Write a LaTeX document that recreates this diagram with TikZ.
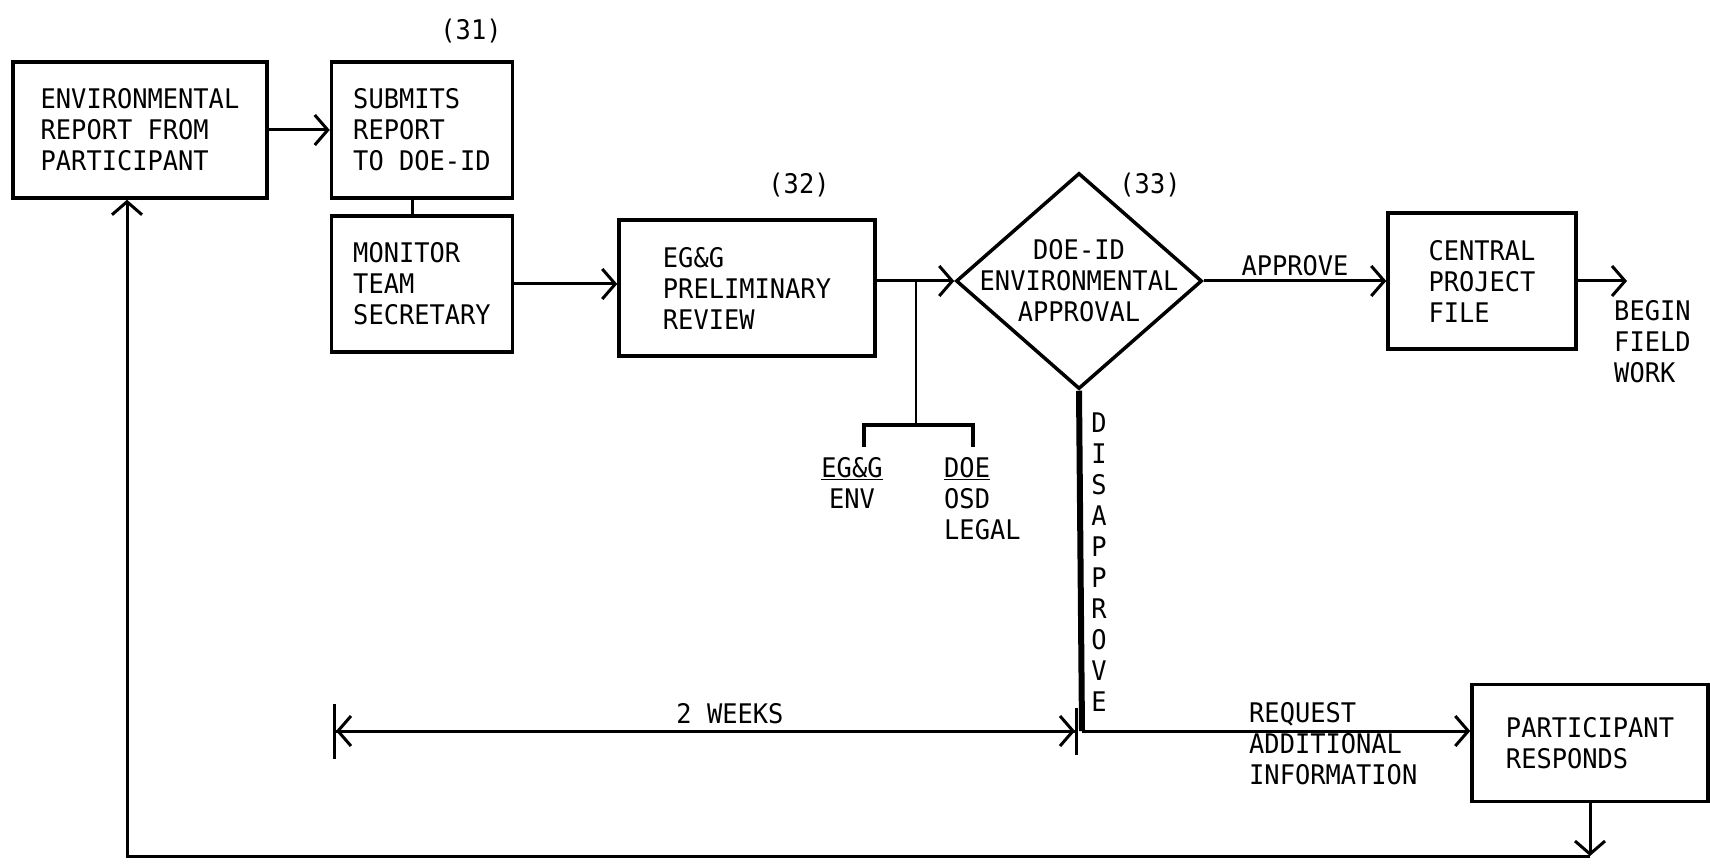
\documentclass[tikz,border=0pt]{standalone}
\usepackage{fontspec}
\newfontfamily\plotfont[FakeStretch=0.94]{DejaVu Sans Mono}
\usetikzlibrary{arrows.meta,shapes.geometric}

\begin{document}
\begin{tikzpicture}[x=1pt, y=-1pt,
        font=\plotfont\fontsize{27}{31}\selectfont,
        >={Straight Barb[length=13pt,width=30pt]}]
        \useasboundingbox (0,0) rectangle (1710,866);

        \begin{scope}[
            pnode/.style={draw, line width=3.5pt, align=left, inner sep=0pt, minimum height=136pt},
            dnode/.style={draw, diamond, line width=3.5pt, inner sep=0pt, minimum width=246pt, minimum height=216pt},
            lnode/.style={align=left, inner sep=0pt}]
            \node[pnode, minimum width=254pt] (env) at (140,130) {ENVIRONMENTAL\\REPORT FROM\\PARTICIPANT};
            \node[pnode, minimum width=181pt] (sub) at (422,130) {SUBMITS\\REPORT\\TO DOE-ID};
            \node[pnode, minimum width=181pt] (mon) at (422,284) {MONITOR\\TEAM\\SECRETARY};
            \node[pnode, minimum width=256pt] (rev) at (747,288) {EG\&G\\PRELIMINARY\\REVIEW};
            \node[dnode] (appr) at (1079,281) {};
            \node[lnode, align=center] (apprtext) at (appr) {DOE-ID\\ENVIRONMENTAL\\APPROVAL};
            \node[pnode, minimum width=188pt] (cpf) at (1482,281) {CENTRAL\\PROJECT\\FILE};
            \node[pnode, minimum width=236pt, minimum height=117pt] (resp) at (1590,743) {PARTICIPANT\\RESPONDS};

            \node[lnode] (n31) at (471,31) {(31)};
            \node[lnode] (n32) at (799,185) {(32)};
            \node[lnode] (n33) at (1150,185) {(33)};
            \node[lnode, anchor=west] (go) at (1614,342) {BEGIN\\FIELD\\WORK};
            \node[lnode, anchor=west] (req) at (1249,744) {REQUEST\\ADDITIONAL\\INFORMATION};
            \node[lnode, align=center] (dis) at (1099,562) {D\\I\\S\\A\\P\\P\\R\\O\\V\\E};
            \node[lnode, align=center, anchor=north] (egenv) at (852,457) {\underline{EG\&G}\\ENV};
            \node[lnode, anchor=north west] (doe) at (944,457) {\underline{DOE}\\OSD\\LEGAL};
        \end{scope}

        \coordinate (gotip) at (1627,281);
        \coordinate (tap) at (916,281);
        \coordinate (fork) at (916,425);
        \coordinate (envtap) at (864,447);
        \coordinate (legtap) at (973,447);
        \coordinate (wk) at (333,731);
        \coordinate (split) at (1082,731);
        \coordinate (ret) at (1590,856);
        \coordinate (retL) at (127,856);

        \begin{scope}[
            every edge/.style={draw, line width=3pt}]
            \path [->] (env) edge (sub);
            \path [-] ([xshift=-10pt]sub.south) edge ([xshift=-10pt]mon.north);
            \path [->] (mon) edge (mon -| rev.west);
            \path [->] (rev.east |- tap) edge (appr.west);
            \path [->] (appr.east) edge node[above, inner sep=4pt] {APPROVE} (appr -| cpf.west);
            \path [->] (cpf.east) edge (gotip);
            \path [->] (split) edge (split -| resp.west);
            \path [->] (resp) edge (ret);
        \end{scope}

        \draw[line width=6pt] (appr.south) -- (split);
        \draw[line width=3pt, {Bar[width=55pt]<}-{>Bar[width=47pt]}, shorten >=4pt] (wk) -- (split)
            node[pos=0.53, above, inner sep=6pt] {2 WEEKS};
        \draw[line width=3pt, ->] (ret) -- (retL) -- (retL |- env.south);
        \draw[line width=2.5pt] (tap) -- (fork);
        \draw[line width=3.5pt] (envtap) |- (fork) -| (legtap);

        \end{tikzpicture}
\end{document}
